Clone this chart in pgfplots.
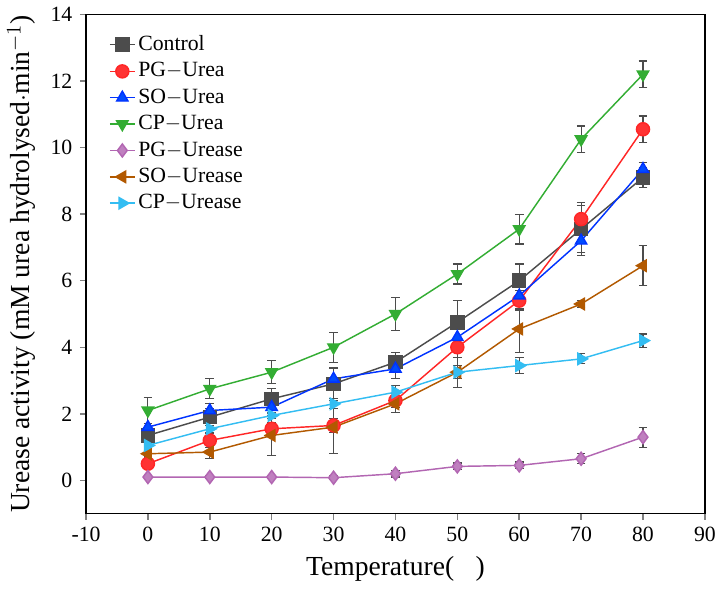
\documentclass[border=0pt]{standalone}
\usepackage{pgfplots}
\pgfplotsset{compat=1.18}
\usepackage{fontspec}
\setmainfont{Liberation Serif}
\begin{document}
\fontsize{15}{18}\selectfont
\begin{tikzpicture}
\begin{axis}[
  width=15cm, height=12.1cm, scale only axis,
  xmin=-10, xmax=90, ymin=-1, ymax=14,
  xtick={-10,0,...,90}, ytick={0,2,...,14},
  tick align=outside, axis line style={line width=1pt}, major tick style={line width=1pt},
  xtick pos=bottom, ytick pos=left,
  /pgf/number format/assume math mode=true,
  ticklabel style={font=\fontsize{15}{18}\selectfont},
  xlabel={Temperature(℃)}, ylabel={Urease activity (mM urea hydrolysed$\cdot$min$^{-1}$)},
  label style={font=\fontsize{19}{22}\selectfont},
  legend style={draw=none, fill=none, at={(0.03,0.97)}, anchor=north west, font=\fontsize{15}{18}\selectfont, row sep=2pt},
  legend cell align=left,
  every axis plot/.append style={line width=1pt, mark size=4.5pt},
  error bars/y dir=both, error bars/y explicit,
  error bars/error bar style={line width=0.8pt, black!70},
  error bars/error mark options={rotate=90, mark size=3pt, black!70, line width=0.8pt},
]
\addplot[color=black!70, mark=square*, mark options={fill=black!70,solid}] coordinates {(0,1.35)+-(0,0.2) (10,1.9)+-(0,0.25) (20,2.45)+-(0,0.3) (30,2.9)+-(0,0.5) (40,3.55)+-(0,0.3) (50,4.75)+-(0,0.65) (60,6.0)+-(0,0.5) (70,7.55)+-(0,0.7) (80,9.1)+-(0,0.3)};
\addplot[color=red!85!white, mark=*, mark options={fill=red!80!white}] coordinates {(0,0.5)+-(0,0.1) (10,1.2)+-(0,0.2) (20,1.55)+-(0,0.2) (30,1.65)+-(0,0.2) (40,2.4)+-(0,0.2) (50,4.0)+-(0,0.3) (60,5.4)+-(0,0.3) (70,7.85)+-(0,0.5) (80,10.55)+-(0,0.4)};
\addplot[color=blue!80!cyan, mark=triangle*, mark options={fill=blue!70!cyan}] coordinates {(0,1.6)+-(0,0.1) (10,2.1)+-(0,0.2) (20,2.2)+-(0,0.2) (30,3.05)+-(0,0.3) (40,3.35)+-(0,0.3) (50,4.3)+-(0,0.4) (60,5.55)+-(0,0.4) (70,7.2)+-(0,0.45) (80,9.35)+-(0,0.2)};
\addplot[color=green!60!black!80!white, mark=triangle*, mark options={rotate=180, fill=green!60!black!80!white}] coordinates {(0,2.1)+-(0,0.4) (10,2.75)+-(0,0.3) (20,3.25)+-(0,0.35) (30,4.0)+-(0,0.45) (40,5.0)+-(0,0.5) (50,6.2)+-(0,0.3) (60,7.55)+-(0,0.45) (70,10.25)+-(0,0.4) (80,12.2)+-(0,0.4)};
\addplot[color=violet!60!white, mark=diamond*, mark options={fill=violet!50!white}] coordinates {(0,0.1)+-(0,0.05) (10,0.1)+-(0,0.05) (20,0.1)+-(0,0.05) (30,0.08)+-(0,0.05) (40,0.2)+-(0,0.1) (50,0.42)+-(0,0.1) (60,0.45)+-(0,0.1) (70,0.65)+-(0,0.15) (80,1.3)+-(0,0.3)};
\addplot[color=orange!70!black, mark=triangle*, mark options={rotate=90, fill=orange!70!black}] coordinates {(0,0.8)+-(0,0.1) (10,0.85)+-(0,0.2) (20,1.35)+-(0,0.6) (30,1.6)+-(0,0.8) (40,2.3)+-(0,0.25) (50,3.25)+-(0,0.45) (60,4.55)+-(0,0.7) (70,5.3)+-(0,0.1) (80,6.45)+-(0,0.6)};
\addplot[color=cyan!80!white, mark=triangle*, mark options={rotate=-90, fill=cyan!80!white}] coordinates {(0,1.05)+-(0,0.1) (10,1.55)+-(0,0.1) (20,1.95)+-(0,0.1) (30,2.3)+-(0,0.15) (40,2.65)+-(0,0.2) (50,3.25)+-(0,0.2) (60,3.45)+-(0,0.25) (70,3.65)+-(0,0.15) (80,4.2)+-(0,0.2)};
\legend{Control,PG$-$Urea,SO$-$Urea,CP$-$Urea,PG$-$Urease,SO$-$Urease,CP$-$Urease}
\end{axis}
\end{tikzpicture}
\end{document}
